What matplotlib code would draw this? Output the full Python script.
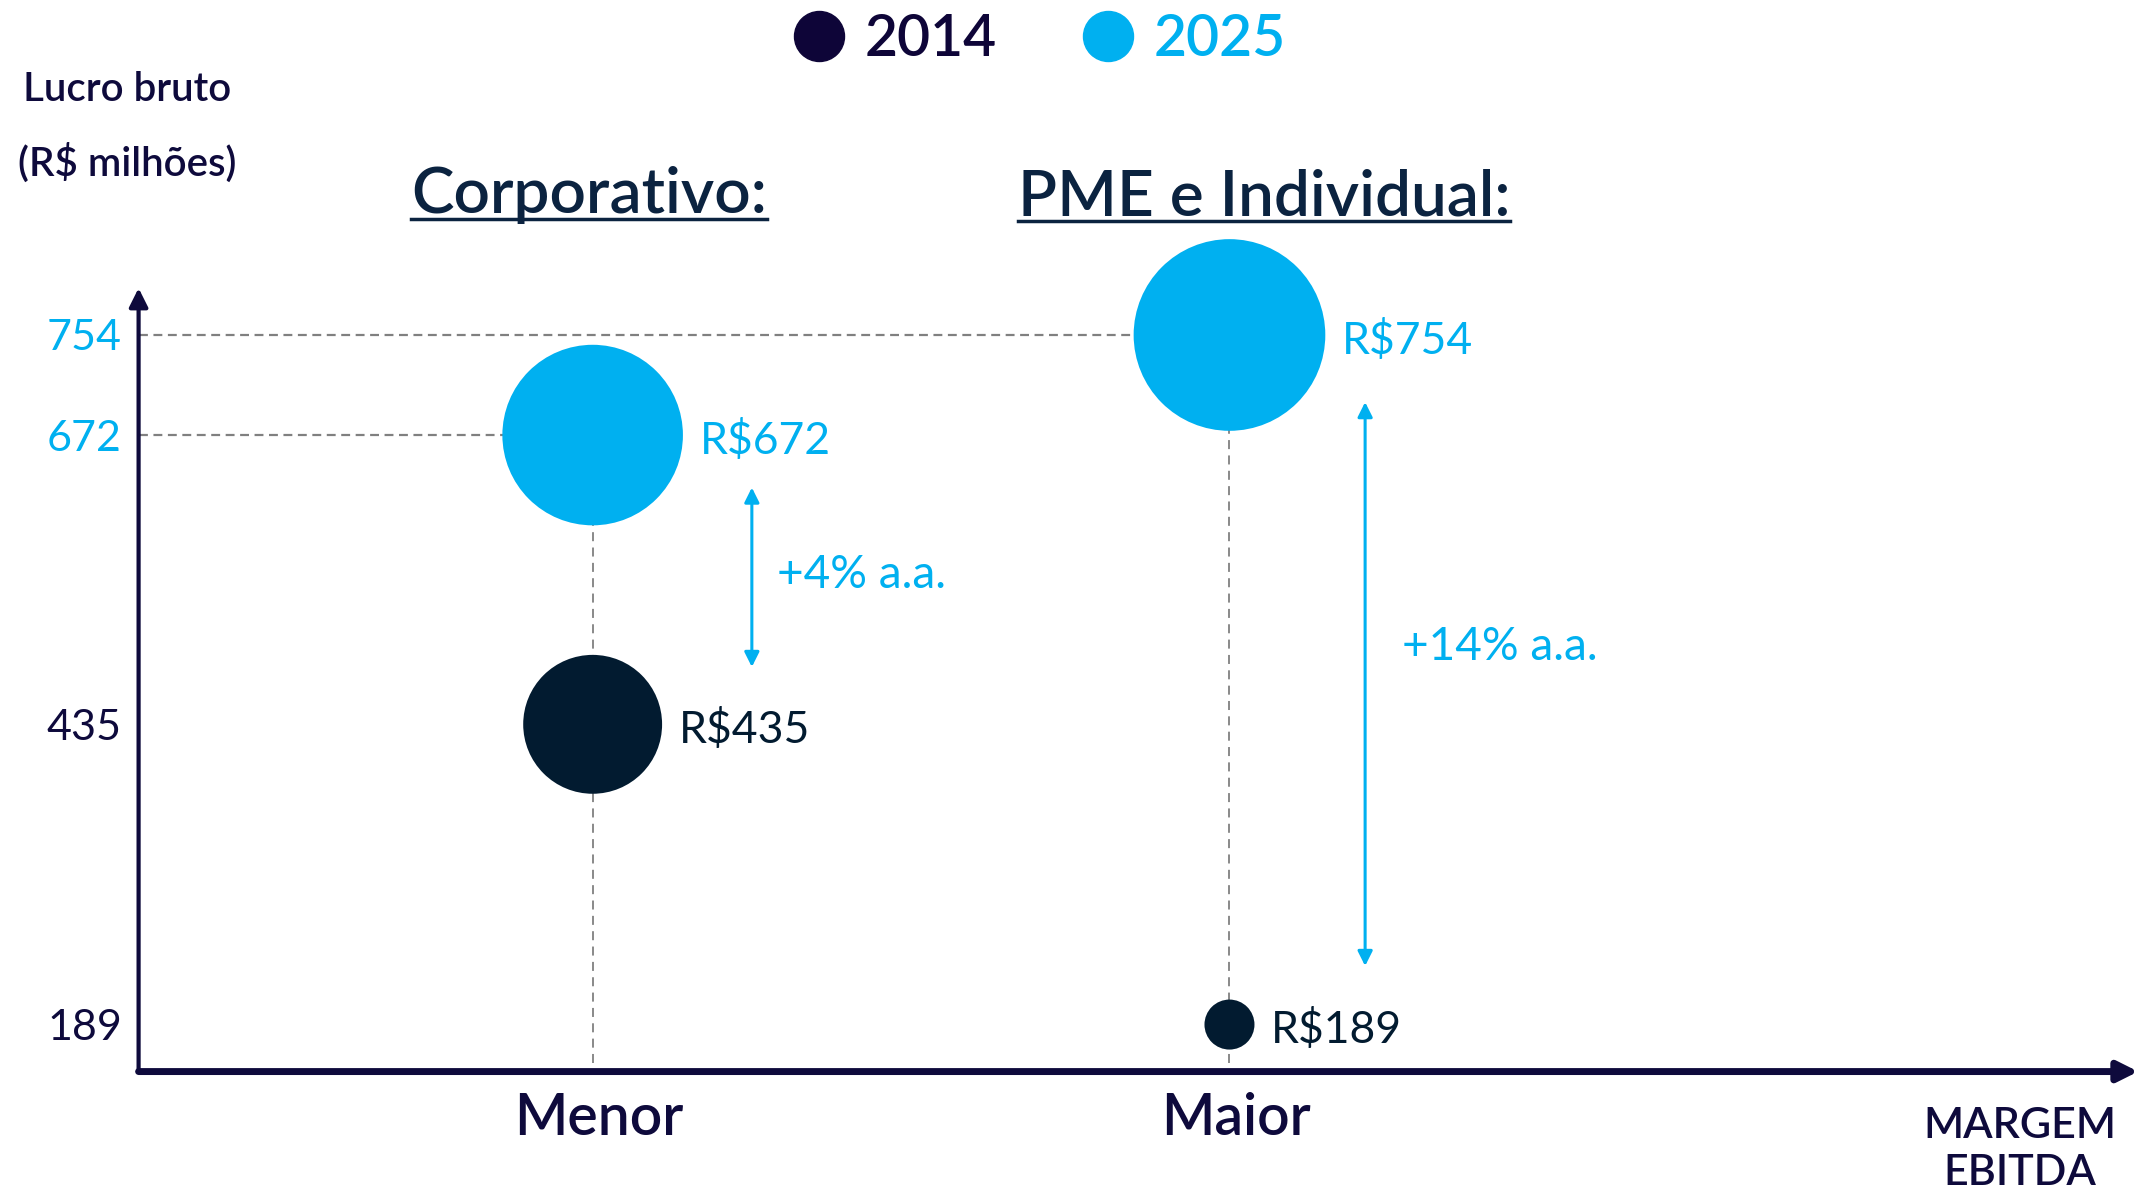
import matplotlib.pyplot as plt
from matplotlib.lines import Line2D

# dados
segmentos = ['Corporativo:', 'PME e Individual:']
margem = ['Menor', 'Maior']
lucro_2014 = [435, 189]
lucro_2025 = [672, 754]
crescimento = ['+4% a.a.', '+14% a.a.']
ticks_y = [189, 435, 672, 754]

# estilo
AZUL = '#00B0F0'
ESCURO = '#021B30'
EIXO = '#0E0A3C'
TITULO = '#0B2340'
CINZA = '#808080'
raio_2014 = [50, 18]     # pontos
raio_2025 = [65, 69]
seta_dx = [0.25, 0.213]
folga_seta = [(43, 47), (55, 48)]
texto_dx = [0.04, 0.058]
texto_dy = [2, 30]

plt.rcParams['font.family'] = ['Lato', 'DejaVu Sans']

fig = plt.figure(figsize=(21.52, 11.95), dpi=100)
ax = fig.add_axes([0.0644, 0.1033, 0.9292, 0.6556])
xmin, xmax = -0.713, 2.427
ymin, ymax = 150.5, 792.4
ax.set_xlim(xmin, xmax)
ax.set_ylim(ymin, ymax)
pos = list(range(len(segmentos)))

for s in ax.spines.values():
    s.set_visible(False)

# eixos com setas
ax.annotate('', xy=(0, 1), xytext=(0, 0), xycoords='axes fraction',
            arrowprops=dict(arrowstyle='-|>', lw=3, color=EIXO,
                            mutation_scale=28, shrinkA=0, shrinkB=0))
ax.annotate('', xy=(1, 0), xytext=(0, 0), xycoords='axes fraction',
            arrowprops=dict(arrowstyle='-|>', lw=5, color=EIXO,
                            mutation_scale=30, shrinkA=0, shrinkB=0))

# linhas de guia
for x, v in zip(pos, lucro_2025):
    ax.plot([xmin, x], [v, v], ls=(0, (4, 2.5)), color=CINZA, lw=1.6, zorder=1)
    ax.plot([x, x], [ymin + 7, v], ls=(0, (5, 3.5)), color=CINZA, lw=1.3, zorder=1)

ax.scatter(pos, lucro_2025, s=[(2 * r) ** 2 for r in raio_2025], color=AZUL,
           linewidths=0, zorder=3, clip_on=False)
ax.scatter(pos, lucro_2014, s=[(2 * r) ** 2 for r in raio_2014], color=ESCURO,
           linewidths=0, zorder=3, clip_on=False)

for x, v, r in zip(pos, lucro_2025, raio_2025):
    ax.annotate(f'R${v}', (x, v), xytext=(r + 12, -4), textcoords='offset points',
                va='center', ha='left', fontsize=32, color=AZUL)
for x, v, r in zip(pos, lucro_2014, raio_2014):
    ax.annotate(f'R${v}', (x, v), xytext=(r + 12, -4), textcoords='offset points',
                va='center', ha='left', fontsize=32, color=ESCURO)

# setas de crescimento
for i, x in enumerate(pos):
    xa = x + seta_dx[i]
    y0 = lucro_2014[i] + folga_seta[i][1]
    y1 = lucro_2025[i] - folga_seta[i][0]
    ax.annotate('', xy=(xa, y1), xytext=(xa, y0),
                arrowprops=dict(arrowstyle='<|-|>', lw=2.2, color=AZUL,
                                mutation_scale=22, shrinkA=0, shrinkB=0))
    ax.text(xa + texto_dx[i], (y0 + y1) / 2 + texto_dy[i], crescimento[i],
            fontsize=33, color=AZUL, va='center', ha='left')

# ticks
ax.set_yticks(ticks_y)
ax.set_yticklabels([str(t) for t in ticks_y], fontsize=31)
for t, lab in zip(ticks_y, ax.get_yticklabels()):
    lab.set_color(AZUL if t in lucro_2025 else EIXO)
ax.set_xticks([p + 0.01 for p in pos])
ax.set_xticklabels(margem, fontsize=41, fontweight='semibold', color=EIXO)
ax.tick_params(axis='y', length=0, pad=12)
ax.tick_params(axis='x', length=0, pad=15)

# titulos sublinhados
fig.canvas.draw()
rend = fig.canvas.get_renderer()
for i, (cx, cy) in enumerate([(0.2739, 0.822), (0.5874, 0.8197)]):
    t = fig.text(cx, cy, segmentos[i], ha='center', va='baseline', fontsize=46,
                 fontweight='semibold', color=TITULO)
    bb = t.get_window_extent(rend).transformed(fig.transFigure.inverted())
    fig.add_artist(Line2D([bb.x0, bb.x1], [cy - 0.005, cy - 0.005], color=TITULO,
                          lw=2.5, transform=fig.transFigure))

fig.text(0.0593, 0.925, 'Lucro bruto', ha='center', va='center', fontsize=29,
         fontweight='semibold', color=EIXO)
fig.text(0.0593, 0.864, '(R$ milhões)', ha='center', va='center', fontsize=29,
         fontweight='semibold', color=EIXO)
fig.text(0.9388, 0.038, 'MARGEM\nEBITDA', ha='center', va='center', fontsize=31,
         fontweight='semibold', color=EIXO, linespacing=1.3)

# legenda
handles = [Line2D([], [], marker='o', ls='', markersize=36, color='#0E0538'),
           Line2D([], [], marker='o', ls='', markersize=36, color=AZUL)]
leg = fig.legend(handles, ['2014', '2025'], loc='upper center',
                 bbox_to_anchor=(0.483, 1.032), ncol=2, frameon=False,
                 fontsize=41, handlelength=0.9, handletextpad=0.35,
                 columnspacing=1.5)
for txt, c in zip(leg.get_texts(), ['#0E0538', AZUL]):
    txt.set_color(c)
    txt.set_fontweight('semibold')

fig.savefig('out.png', dpi=100)
